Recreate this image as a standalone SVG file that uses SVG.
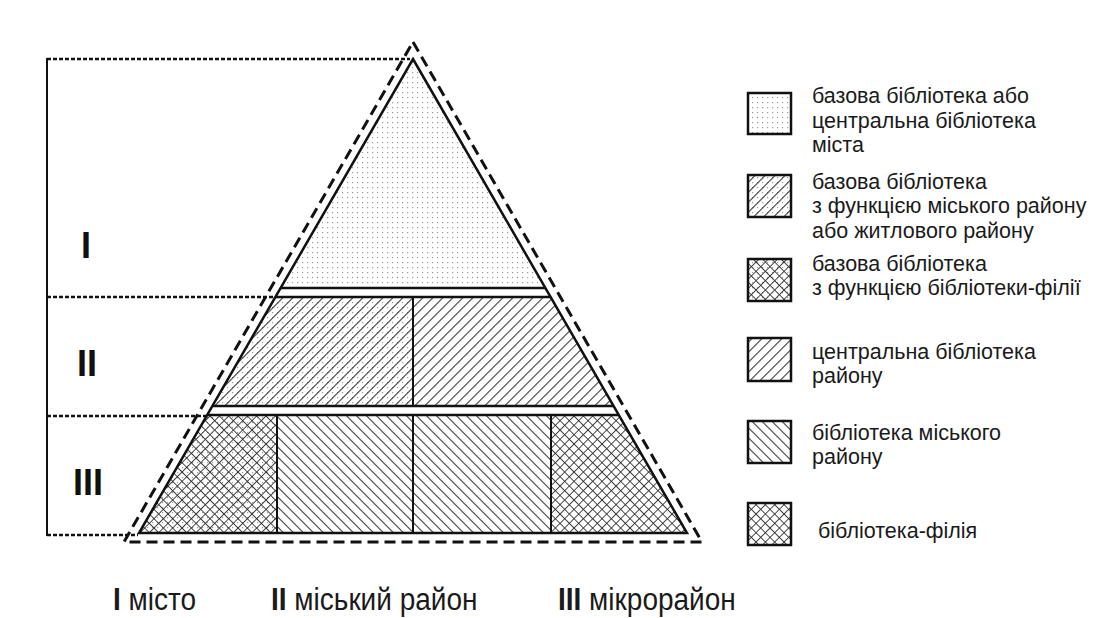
<svg xmlns="http://www.w3.org/2000/svg" width="1099" height="618" viewBox="0 0 1099 618">
<style>
.ln{stroke:#111;stroke-width:2.5;fill:none}
.thin{stroke:#111;stroke-width:2;fill:none}
.br{stroke:#111;stroke-width:2.4;stroke-dasharray:4 2;fill:none}
.outer{stroke:#111;stroke-width:3;stroke-dasharray:11 6;fill:none}
.lg{font-family:"Liberation Sans",Arial,sans-serif;font-size:21.5px;fill:#1a1a1a}
.num{font-family:"Liberation Sans",Arial,sans-serif;font-size:36px;font-weight:bold;fill:#111;text-anchor:middle}
.bt{font-family:"Liberation Sans",Arial,sans-serif;font-size:28px;fill:#1a1a1a}
.b{font-weight:bold}
.box{stroke:#111;stroke-width:2.5}
</style>
<defs>
<pattern id="dots" patternUnits="userSpaceOnUse" width="5" height="5">
<rect x="2" y="2" width="1.2" height="1.2" fill="#9a9a9a"/>
</pattern>
<pattern id="fwd" patternUnits="userSpaceOnUse" width="7.07" height="7.07" patternTransform="rotate(45)">
<line x1="0" y1="0" x2="0" y2="7.07" stroke="#2a2a2a" stroke-width="2"/>
</pattern>
<pattern id="bwd" patternUnits="userSpaceOnUse" width="7.07" height="7.07" patternTransform="rotate(-45)">
<line x1="0" y1="0" x2="0" y2="7.07" stroke="#2a2a2a" stroke-width="2"/>
</pattern>
<pattern id="cross" patternUnits="userSpaceOnUse" width="6.6" height="6.6" patternTransform="rotate(45)">
<line x1="0" y1="0" x2="0" y2="6.6" stroke="#2a2a2a" stroke-width="1.7"/>
<line x1="0" y1="0" x2="6.6" y2="0" stroke="#2a2a2a" stroke-width="1.7"/>
</pattern>
</defs>
<rect width="1099" height="618" fill="#fff"/>

<g id="bracket">
<line class="thin" x1="47" y1="58" x2="47" y2="536"/>
<line class="br" x1="47" y1="59" x2="410" y2="59"/>
<line class="br" x1="47" y1="297" x2="275" y2="297"/>
<line class="br" x1="47" y1="416" x2="207" y2="416"/>
<line class="br" x1="47" y1="535" x2="138" y2="535"/>
<text class="num" transform="translate(86,258) scale(1,1.05)">I</text>
<text class="num" transform="translate(87,376) scale(1,1.05)">II</text>
<text class="num" transform="translate(88,495) scale(1,1.05)">III</text>
</g>

<g id="band-I">
<polygon points="413,59 545.4,288 280.6,288" fill="url(#dots)"/>
</g>
<g id="band-II-left">
<polygon points="275.4,297 413,297 413,406 212.4,406" fill="url(#dots)"/>
<polygon points="275.4,297 413,297 413,406 212.4,406" fill="url(#fwd)"/>
</g>
<g id="band-II-right">
<polygon points="413,297 550.6,297 613.6,406 413,406" fill="url(#fwd)"/>
</g>
<g id="band-III-1">
<polygon points="207.2,415 277,415 277,533 139,533" fill="url(#dots)"/>
<polygon points="207.2,415 277,415 277,533 139,533" fill="url(#cross)"/>
</g>
<g id="band-III-2">
<polygon points="277,415 413,415 413,533 277,533" fill="url(#bwd)"/>
</g>
<g id="band-III-3">
<polygon points="413,415 551,415 551,533 413,533" fill="url(#bwd)"/>
</g>
<g id="band-III-4">
<polygon points="551,415 618.8,415 687,533 551,533" fill="url(#cross)"/>
</g>

<g id="outlines">
<polygon class="ln" points="413,59 687,533 139,533"/>
<line class="ln" x1="280.6" y1="288" x2="545.4" y2="288"/>
<line class="ln" x1="275.4" y1="297" x2="550.6" y2="297"/>
<line class="ln" x1="212.4" y1="406" x2="613.6" y2="406"/>
<line class="ln" x1="207.2" y1="415" x2="618.8" y2="415"/>
<line class="thin" x1="413" y1="297" x2="413" y2="406"/>
<line class="thin" x1="277" y1="415" x2="277" y2="533"/>
<line class="thin" x1="413" y1="415" x2="413" y2="533"/>
<line class="thin" x1="551" y1="415" x2="551" y2="533"/>
<polygon class="outer" points="413,42 702,542 124,542"/>
</g>

<g id="legend-1">
<rect x="748" y="93" width="43" height="41" fill="url(#dots)" class="box"/>
<text class="lg" x="812" y="103.3">базова бібліотека або</text>
<text class="lg" x="812" y="127.6">центральна бібліотека</text>
<text class="lg" x="812" y="151.9">міста</text>
</g>
<g id="legend-2">
<rect x="748" y="175" width="43" height="42" fill="url(#dots)"/>
<rect x="748" y="175" width="43" height="42" fill="url(#fwd)" class="box"/>
<text class="lg" x="812" y="189">базова бібліотека</text>
<text class="lg" x="812" y="213.3">з функцією міського району</text>
<text class="lg" x="812" y="237.6">або житлового району</text>
</g>
<g id="legend-3">
<rect x="748" y="259" width="43" height="42" fill="url(#dots)"/>
<rect x="748" y="259" width="43" height="42" fill="url(#cross)" class="box"/>
<text class="lg" x="812" y="270.5">базова бібліотека</text>
<text class="lg" x="812" y="295">з функцією бібліотеки-філії</text>
</g>
<g id="legend-4">
<rect x="748" y="338" width="43" height="43" fill="url(#fwd)" class="box"/>
<text class="lg" x="812" y="358.5">центральна бібліотека</text>
<text class="lg" x="812" y="383">району</text>
</g>
<g id="legend-5">
<rect x="748" y="421" width="43" height="42" fill="url(#bwd)" class="box"/>
<text class="lg" x="812" y="439.5">бібліотека міського</text>
<text class="lg" x="812" y="464">району</text>
</g>
<g id="legend-6">
<rect x="748" y="503" width="43" height="42" fill="url(#cross)" class="box"/>
<text class="lg" x="818" y="538.3">бібліотека-філія</text>
</g>

<g id="levels">
<text class="bt" transform="translate(113,610) scale(1,1.1)"><tspan class="b">I</tspan> місто</text>
<text class="bt" transform="translate(271,610) scale(1,1.1)"><tspan class="b">II</tspan> міський район</text>
<text class="bt" transform="translate(558,610) scale(1,1.1)"><tspan class="b">III</tspan> мікрорайон</text>
</g>
</svg>
